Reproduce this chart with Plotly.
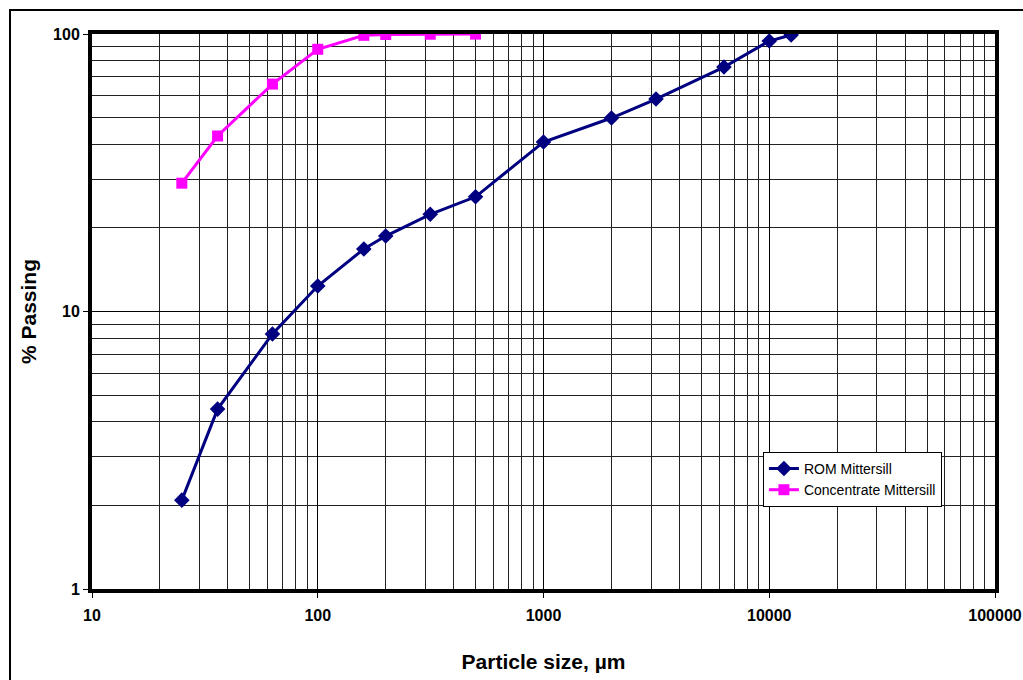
import plotly.graph_objects as go

sizes_rom = [25, 36, 63, 100, 160, 200, 315, 500, 1000, 2000, 3150, 6300, 10000, 12500]
rom_passing = [2.09, 4.45, 8.3, 12.35, 16.8, 18.7, 22.4, 25.9, 40.8, 49.8, 58.3, 76.0, 94.3, 99.2]
sizes_conc = [25, 36, 63, 100, 160, 200, 315, 500]
conc_passing = [29.0, 42.9, 66.0, 88.1, 98.9, 99.6, 99.8, 99.9]
x_ticks = [10, 100, 1000, 10000, 100000]
y_ticks = [1, 10, 100]

FONT = "Arial, Liberation Sans, sans-serif"

fig = go.Figure()
fig.add_trace(go.Scatter(
    x=sizes_rom, y=rom_passing, mode="lines+markers", name="ROM Mittersill",
    line=dict(color="#000080", width=3),
    marker=dict(symbol="diamond", size=12, color="#000080"),
))
fig.add_trace(go.Scatter(
    x=sizes_conc, y=conc_passing, mode="lines+markers", name="Concentrate Mittersill",
    line=dict(color="#FF00FF", width=3),
    marker=dict(symbol="square", size=11, color="#FF00FF"),
))

axis_common = dict(
    showline=True, linecolor="black", linewidth=4, mirror=True,
    showgrid=True, gridcolor="black", gridwidth=1,
    ticks="outside", ticklen=5, tickcolor="black", tickwidth=1,
    tickfont=dict(family=FONT, size=16, color="black", weight="bold"),
    zeroline=False, automargin=False,
)

fig.update_xaxes(
    type="log", range=[1, 5], tickvals=x_ticks, ticktext=[str(v) for v in x_ticks],
    minor=dict(dtick="D1", showgrid=True, gridcolor="#222", gridwidth=1, ticks=""),
    title=dict(text="Particle size, µm", font=dict(family=FONT, size=21, color="black", weight="bold"), standoff=32),
    ticklabelstandoff=4,
    **axis_common,
)
fig.update_yaxes(
    type="log", range=[0, 2], tickvals=y_ticks, ticktext=[str(v) for v in y_ticks],
    minor=dict(dtick="D1", showgrid=True, gridcolor="#222", gridwidth=1, ticks=""),
    title=dict(text="% Passing", font=dict(family=FONT, size=21, color="black", weight="bold"), standoff=12),
    **axis_common,
)

fig.update_layout(
    width=1023, height=680,
    margin=dict(l=92, r=28, t=34, b=91),
    paper_bgcolor="white", plot_bgcolor="white",
    showlegend=True,
    legend=dict(
        x=0.743, y=0.247, xanchor="left", yanchor="top",
        bgcolor="white", bordercolor="black", borderwidth=1,
        font=dict(family=FONT, size=14, color="black"),
        tracegroupgap=0,
    ),
    shapes=[dict(
        type="rect", xref="paper", yref="paper",
        x0=-0.0908, x1=1.1, y0=-0.3, y1=1.0432,
        line=dict(color="black", width=2), fillcolor="rgba(0,0,0,0)", layer="below",
    )],
)

fig.write_html(
    "out.html",
    config={"displayModeBar": False},
    post_script="document.body.style.margin='0';document.body.style.overflow='hidden';",
)
